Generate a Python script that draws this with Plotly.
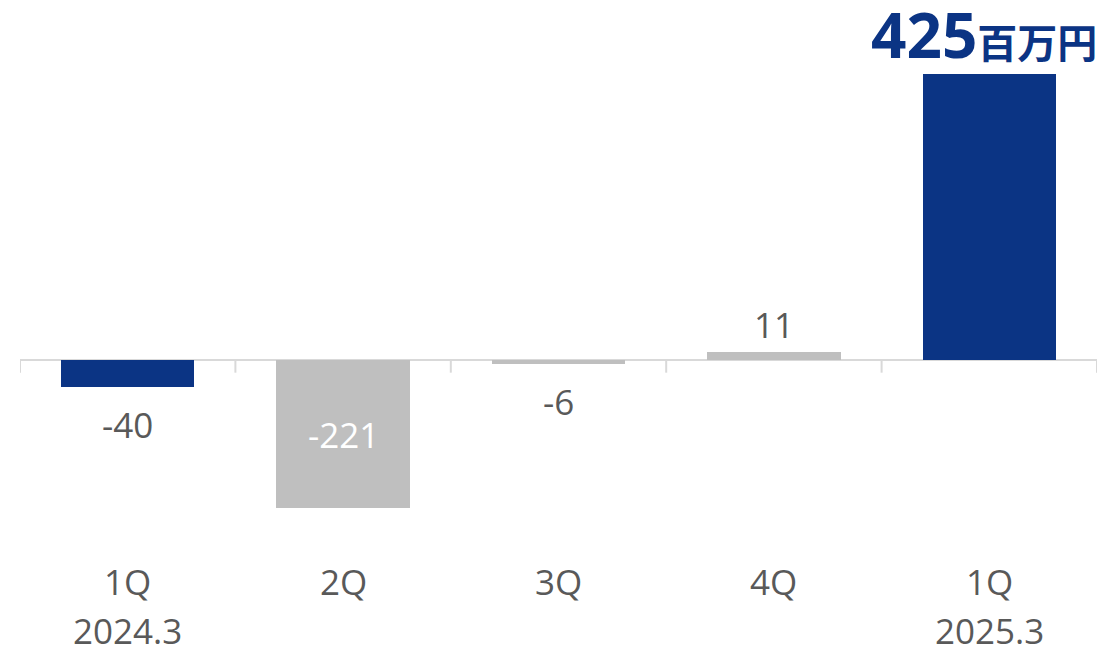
import plotly.graph_objects as go

categories = ["1Q", "2Q", "3Q", "4Q", "1Q"]
periods = ["2024.3", "", "", "", "2025.3"]
values = [-40, -221, -6, 11, 425]
label_text = ["-40", "-221", "-6", "11", "425"]
bar_colors = ["#0B3484", "#BFBFBF", "#BFBFBF", "#BFBFBF", "#0B3484"]
unit = "百万円"

FONT = "Open Sans, Noto Sans CJK JP, sans-serif"
GREY_TEXT = "#595959"
FS = 35

H = 649
T, B = 57, 101
plot_h = H - T - B


def paper_y(px):
    return (H - B - px) / plot_h


fig = go.Figure()
fig.add_trace(go.Bar(
    x=list(range(len(categories))), y=values,
    marker=dict(color=bar_colors, line=dict(width=0)),
    width=0.62, hoverinfo="skip",
))

annotations = []
for i, (v, t) in enumerate(zip(values, label_text)):
    if i == len(values) - 1:
        annotations.append(dict(
            x=i, y=v, xref="x", yref="y", yanchor="bottom", yshift=-4, xshift=-5,
            text=("<b><span style='font-size:62px'>" + t + "</span>"
                  "<span style='font-size:40px;font-family:Noto Sans CJK JP'>" + unit + "</span></b>"),
            showarrow=False, font=dict(family=FONT, size=62, color="#0B3484"),
        ))
    elif v < -100:
        annotations.append(dict(
            x=i, y=v / 2, xref="x", yref="y", yanchor="middle", yshift=-1,
            text=t, showarrow=False, font=dict(family=FONT, size=FS, color="white"),
        ))
    elif v < 0:
        annotations.append(dict(
            x=i, y=v, xref="x", yref="y", yanchor="middle", yshift=-38,
            text=t, showarrow=False, font=dict(family=FONT, size=FS, color=GREY_TEXT),
        ))
    else:
        annotations.append(dict(
            x=i, y=v, xref="x", yref="y", yanchor="middle", yshift=28,
            text=t, showarrow=False, font=dict(family=FONT, size=FS, color=GREY_TEXT),
        ))

for i, (c, p) in enumerate(zip(categories, periods)):
    annotations.append(dict(
        x=i, y=paper_y(581), xref="x", yref="paper", yanchor="middle",
        text=c, showarrow=False, font=dict(family=FONT, size=FS, color=GREY_TEXT),
    ))
    if p:
        annotations.append(dict(
            x=i, y=paper_y(630), xref="x", yref="paper", yanchor="middle",
            text=p, showarrow=False, font=dict(family=FONT, size=FS, color=GREY_TEXT),
        ))

shapes = []
for k in range(len(categories) + 1):
    shapes.append(dict(
        type="line", xref="x", yref="y", ysizemode="pixel", yanchor=0,
        x0=k - 0.5, x1=k - 0.5, y0=0, y1=-13,
        line=dict(color="#D9D9D9", width=2),
    ))

fig.update_layout(
    width=1107, height=649,
    margin=dict(l=20, r=10, t=T, b=B, pad=0),
    paper_bgcolor="white", plot_bgcolor="white",
    showlegend=False,
    xaxis=dict(range=[-0.5, 4.5], visible=False, fixedrange=True),
    yaxis=dict(range=[-280, 450], showgrid=False, showticklabels=False,
               zeroline=True, zerolinecolor="#D9D9D9", zerolinewidth=2, fixedrange=True),
    annotations=annotations,
    shapes=shapes,
    bargap=0,
)

fig.write_html(
    "out.html",
    config={"displayModeBar": False},
    post_script="document.body.style.margin='0';document.body.style.overflow='hidden';",
)
